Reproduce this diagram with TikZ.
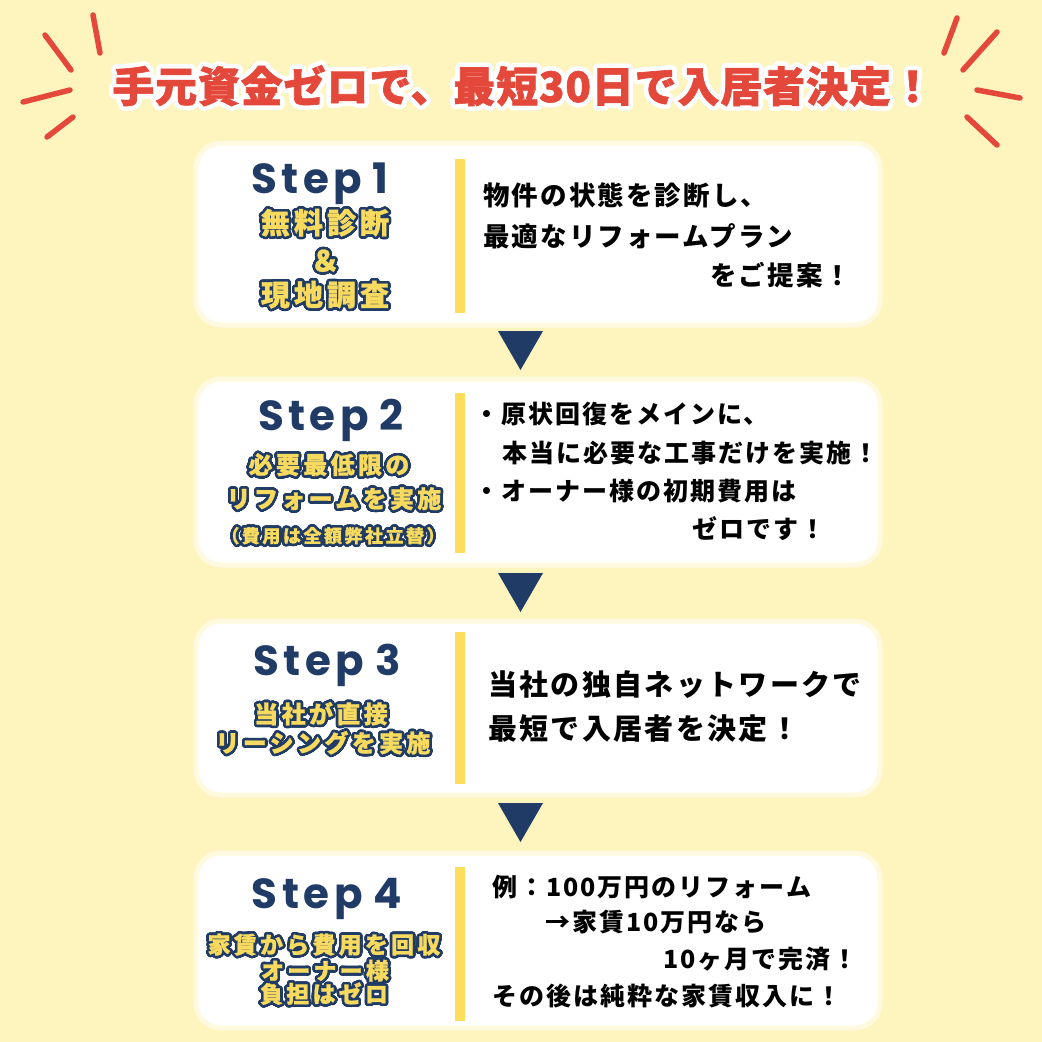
\documentclass[tikz,border=0pt]{standalone}
\usepackage{fontspec}
\setmainfont{Noto Sans CJK JP}
\newfontfamily\titlefont{Noto Sans CJK JP}[LetterSpace=2, FakeBold=1.5]
\newfontfamily\ylfont{Noto Sans CJK JP}[LetterSpace=14, FakeBold=1]
\newfontfamily\rtfont{Noto Sans CJK JP}[LetterSpace=8]
\newfontfamily\stepfont{Poppins}
\usepackage{contour}
\contournumber{32}
\definecolor{bgc}{HTML}{FDF4BE}
\definecolor{halo}{HTML}{FFFADF}
\definecolor{navy}{HTML}{1F3B66}
\definecolor{ylw}{HTML}{F8DA5E}
\definecolor{barc}{HTML}{FCDD5C}
\definecolor{redc}{HTML}{E4483A}
\tikzset{
  card/.style={fill=white, draw=halo, line width=5pt, rounded corners=25pt},
  bar/.style={fill=barc},
  tri/.style={fill=navy},
  ray/.style={draw=redc, line width=5.5pt, line cap=round},
  steplbl/.style={anchor=base, inner sep=0, text=navy, font=\stepfont\bfseries\fontsize{42}{42}\selectfont},
  yl/.style={anchor=center, inner sep=0, text=ylw, font=\ylfont\bfseries},
  rt/.style={anchor=west, inner sep=0, text=black, font=\rtfont\bfseries},
}
\newcommand{\ylt}[2]{\fontsize{#1}{#1}\selectfont\contourlength{2.6pt}\contour{navy}{#2}}
\newcommand{\stp}[1]{S\kern4.5pt t\kern4.5pt e\kern4.5pt p\kern11pt #1}
\begin{document}
\begin{tikzpicture}[x=1pt,y=-1pt]
\useasboundingbox (0,0) rectangle (1042,1042);
\fill[bgc] (0,0) rectangle (1042,1042);
% rays
\draw[ray] (93,15) -- (100,53);
\draw[ray] (45,35) -- (71,70);
\draw[ray] (70,90) -- (23,102);
\draw[ray] (73,117) -- (47,137);
\draw[ray] (957,18) -- (944,53);
\draw[ray] (997,32) -- (963,70);
\draw[ray] (977,90) -- (1020,98);
\draw[ray] (967,117) -- (997,145);
% title
\node[inner sep=0, text=redc, font=\titlefont\bfseries\fontsize{42}{42}\selectfont] (title) at (523,88)
  {\contourlength{4.5pt}\contour{white}{手元資金ゼロで、最短30日で入居者決定！}};
% cards
\draw[card] (196,143) rectangle (880,325);
\draw[card] (196,379) rectangle (880,565);
\draw[card] (196,621) rectangle (880,795);
\draw[card] (196,853) rectangle (880,1028);
% bars
\fill[bar] (455,159) rectangle (465,313);
\fill[bar] (455,393) rectangle (465,553);
\fill[bar] (455,632) rectangle (465,784);
\fill[bar] (455,867) rectangle (465,1021);
% triangles
\fill[tri] (498,331) -- (543,331) -- (520.5,370) -- cycle;
\fill[tri] (498,573) -- (543,573) -- (520.5,612) -- cycle;
\fill[tri] (498,803) -- (543,803) -- (520.5,842) -- cycle;
% step labels
\node[steplbl] (s1) at (320,193) {\stp{1}};
\node[steplbl] (s2) at (331,430) {\stp{2}};
\node[steplbl] (s3) at (327,675) {\stp{3}};
\node[steplbl] (s4) at (327,908) {\stp{4}};
% yellow outlined labels
\node[yl] (y1a) at (325,224) {\ylt{29}{無料診断}};
\node[yl] (y1b) at (325,262) {\ylt{29}{＆}};
\node[yl] (y1c) at (325,296) {\ylt{29}{現地調査}};
\node[yl] (y2a) at (329,466) {\ylt{24}{必要最低限の}};
\node[yl] (y2b) at (334,500) {\ylt{24}{リフォームを実施}};
\node[yl] (y2c) at (333,537) {\ylt{18}{（費用は全額弊社立替）}};
\node[yl] (y3a) at (321,715) {\ylt{24}{当社が直接}};
\node[yl] (y3b) at (323,744) {\ylt{24}{リーシングを実施}};
\node[yl] (y4a) at (324,946) {\ylt{23}{家賃から費用を回収}};
\node[yl] (y4b) at (325,972) {\ylt{23}{オーナー様}};
\node[yl] (y4c) at (324,995) {\ylt{23}{負担はゼロ}};
% right texts
\node[rt, font=\rtfont\bfseries\fontsize{26.5}{26.5}\selectfont] (r1a) at (483,195.5) {物件の状態を診断し、};
\node[rt, font=\rtfont\bfseries\fontsize{26.5}{26.5}\selectfont] (r1b) at (483,236.5) {最適なリフォームプラン};
\node[rt, font=\rtfont\bfseries\fontsize{26.5}{26.5}\selectfont] (r1c) at (710,275) {をご提案！};
\node[rt, font=\rtfont\bfseries\fontsize{25}{25}\selectfont] (r2a) at (474,413.5) {・原状回復をメインに、};
\node[rt, font=\rtfont\bfseries\fontsize{25}{25}\selectfont] (r2b) at (502,453.5) {本当に必要な工事だけを実施！};
\node[rt, font=\rtfont\bfseries\fontsize{25}{25}\selectfont] (r2c) at (474,491.5) {・オーナー様の初期費用は};
\node[rt, font=\rtfont\bfseries\fontsize{25}{25}\selectfont] (r2d) at (692,528.5) {ゼロです！};
\node[rt, font=\rtfont\bfseries\fontsize{29}{29}\selectfont] (r3a) at (488,685) {当社の独自ネットワークで};
\node[rt, font=\rtfont\bfseries\fontsize{29}{29}\selectfont] (r3b) at (488,729) {最短で入居者を決定！};
\node[rt, font=\rtfont\bfseries\fontsize{25}{25}\selectfont] (r4a) at (492,887) {例：100万円のリフォーム};
\node[rt, font=\rtfont\bfseries\fontsize{25}{25}\selectfont] (r4b) at (545,922.5) {→家賃10万円なら};
\node[rt, font=\rtfont\bfseries\fontsize{25}{25}\selectfont] (r4c) at (663,959) {10ヶ月で完済！};
\node[rt, font=\rtfont\bfseries\fontsize{25}{25}\selectfont] (r4d) at (492,996) {その後は純粋な家賃収入に！};
\end{tikzpicture}
\end{document}
